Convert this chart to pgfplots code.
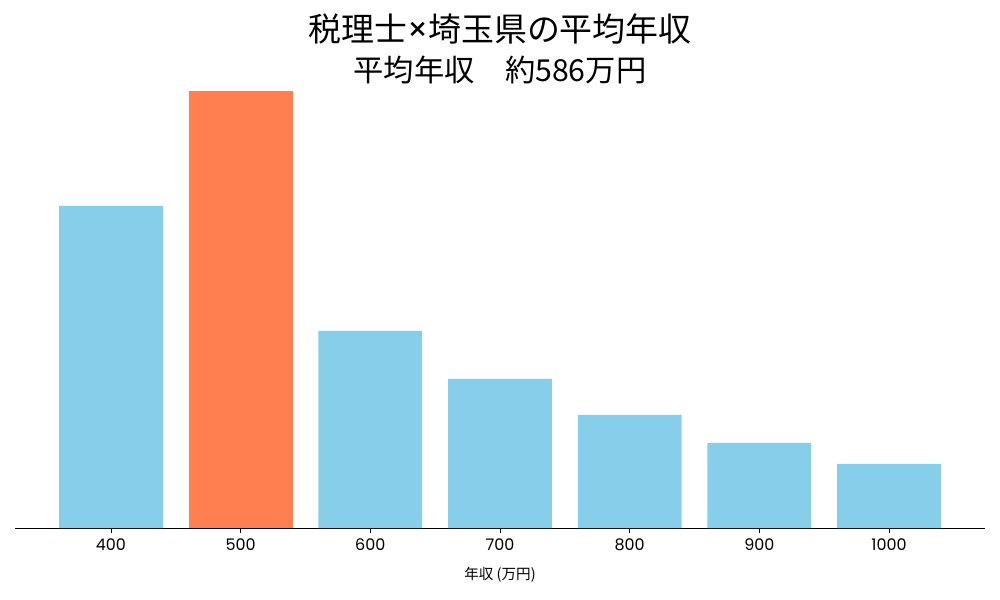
\documentclass[border=0pt]{standalone}
\usepackage{fontspec}
\setmainfont{Poppins}
\newfontfamily\cjk{Noto Sans CJK JP}
\usepackage{pgfplots}
\pgfplotsset{compat=1.18}
\definecolor{skyblue}{HTML}{87CEEB}
\definecolor{coral}{HTML}{FF7F50}
\begin{document}
\begin{tikzpicture}
\path[use as bounding box] (-10.8bp,-51.84bp) rectangle (709.2bp,380.16bp);
\begin{axis}[
  at={(0,0)}, anchor=south west,
  scale only axis,
  width=698.4bp, height=330.5bp,
  xmin=-0.74, xmax=6.74, ymin=0, ymax=459,
  axis y line=none,
  axis x line*=bottom,
  axis line style={black, line width=0.6pt},
  xtick={0,1,2,3,4,5,6},
  xticklabels={400,500,600,700,800,900,1000},
  x tick label style={font=\fontsize{11.5bp}{13bp}\selectfont, yshift=-0.5bp},
  xtick style={black, line width=0.6pt},
  tick align=outside,
  major tick length=3.5bp,
  ybar, bar width=0.8, bar shift=0pt,
  clip=false,
]
\addplot[fill=skyblue, draw=none] coordinates {(0,322) (2,197) (3,149) (4,113) (5,85) (6,64)};
\addplot[fill=coral, draw=none] coordinates {(1,437)};
\end{axis}
\node at (349.2bp,359.5bp) {\cjk\fontsize{23.7bp}{26bp}\selectfont 税理士{\rmfamily ×}埼玉県の平均年収};
\node at (349.2bp,329.5bp) {\cjk\fontsize{21.8bp}{24bp}\selectfont 平均年収　約586万円};
\node at (349.2bp,-34bp) {\cjk\fontsize{10.5bp}{12bp}\selectfont 年収 (万円)};
\end{tikzpicture}
\end{document}
